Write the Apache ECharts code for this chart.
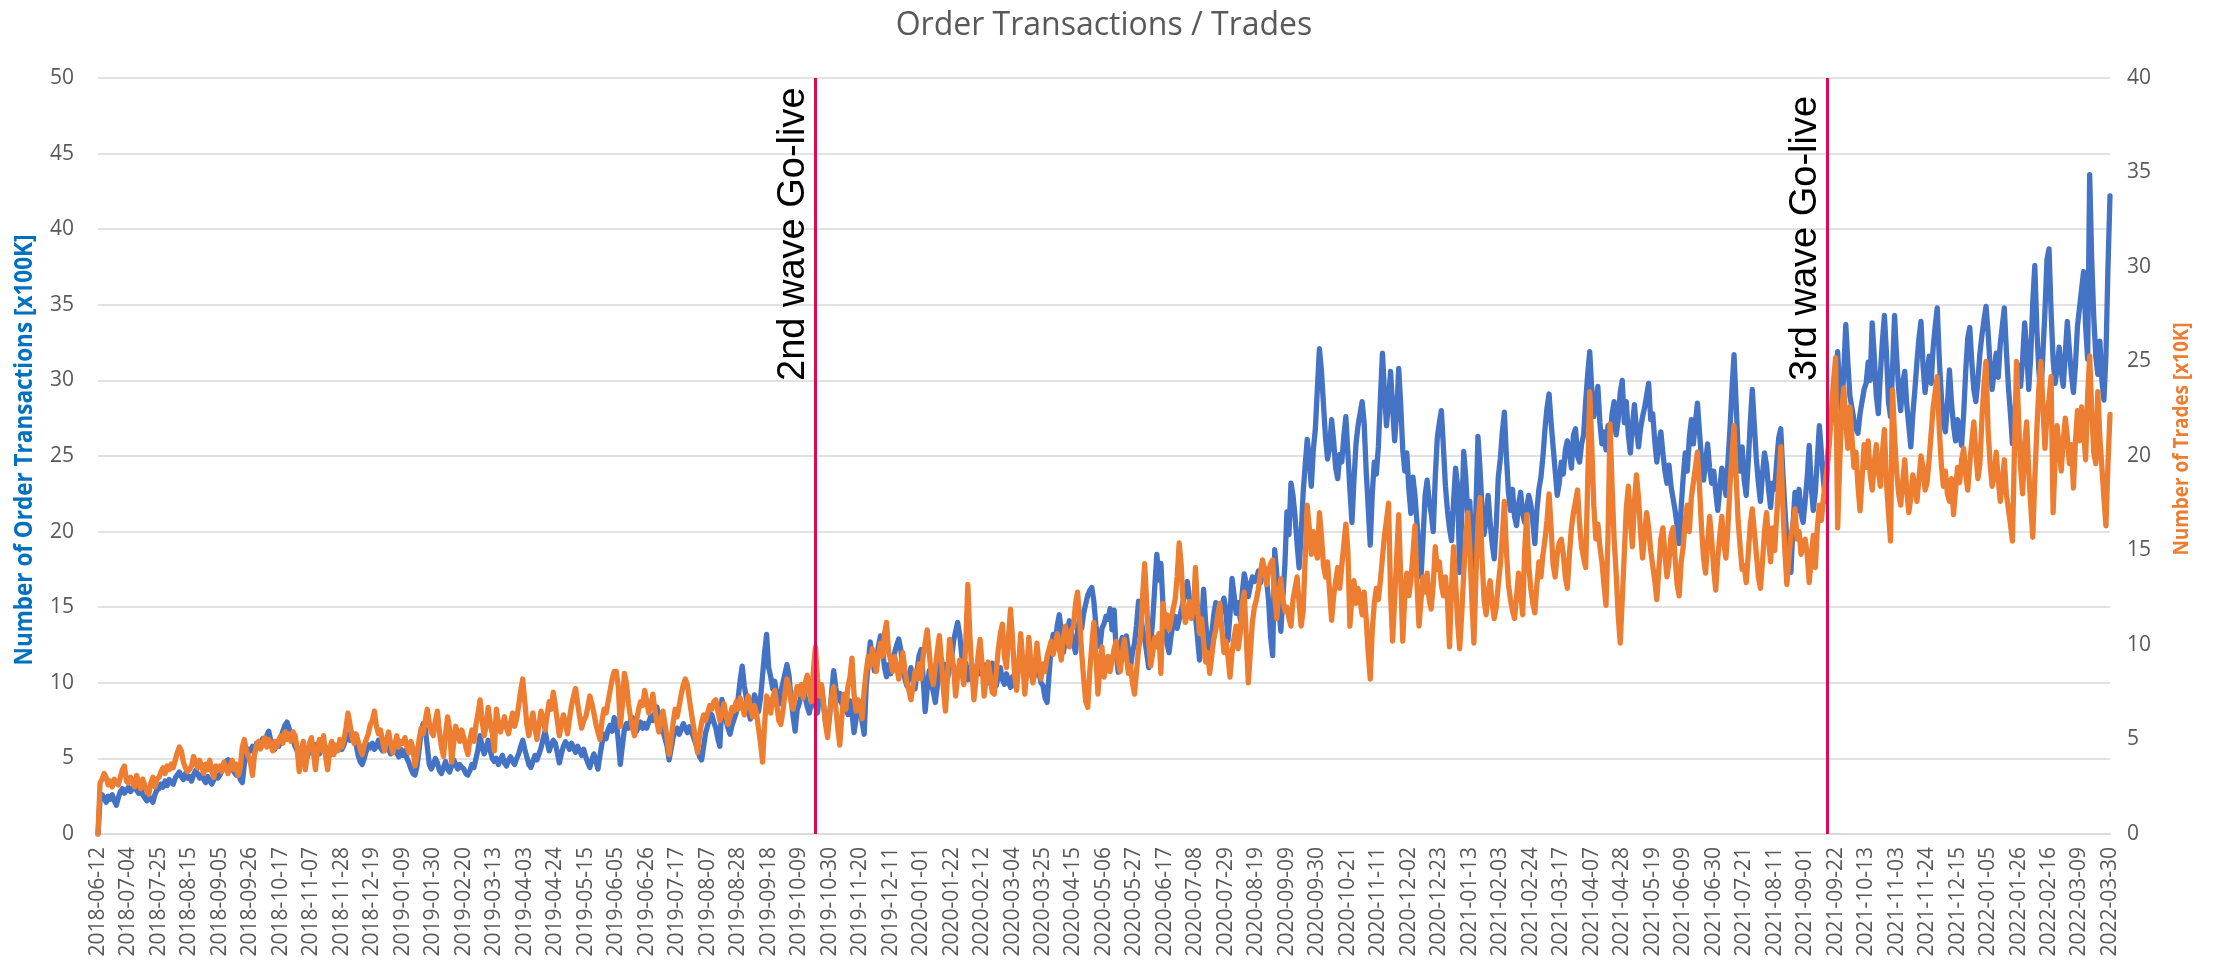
<!DOCTYPE html>
<html>
<head>
<meta charset="utf-8">
<script src="https://cdn.jsdelivr.net/npm/echarts@6/dist/echarts.min.js"></script>
<style>
  html, body { margin: 0; padding: 0; background: #ffffff; }
  #chart { width: 2224px; height: 963px; }
</style>
</head>
<body>
<div id="chart"></div>
<script>
// ---- chart data ----
const chartTitle = 'Order Transactions / Trades';
const leftAxisName = 'Number of Order Transactions [x100K]';
const rightAxisName = 'Number of Trades [x10K]';

// trading days run Mon-Fri between these dates; one weekday has no record
const firstDay = '2018-06-12';
const lastDay = '2022-03-30';
const missingDays = ['2018-06-13'];

// go-live markers
const goLiveDates = ['2019-10-21', '2021-09-16'];
const goLiveLabels = ['2nd wave Go-live', '3rd wave Go-live'];

// daily order transactions, in units of 100K (left axis)
const orderTransactions = [
  0, 2.3, 2.6, 2.4, 2.1, 2.5, 2.3, 2.6, 2.2, 1.9, 2.4, 2.8, 3.0, 2.7, 2.9,
  3.1, 2.8, 3.0, 3.2, 2.9, 2.7, 3.0, 2.6, 2.4, 2.2, 2.5, 2.3, 2.1, 2.6, 2.9,
  3.0, 3.3, 3.1, 3.5, 3.2, 3.6, 3.4, 3.3, 3.7, 3.9, 4.1, 3.8, 3.6, 4.0, 3.7,
  3.8, 3.5, 3.9, 4.2, 4.0, 3.7, 3.9, 3.6, 3.4, 3.8, 3.5, 3.3, 3.6, 3.9, 3.7,
  3.9, 4.2, 4.5, 4.8, 4.9, 4.5, 4.3, 4.1, 3.9, 4.2, 3.6, 3.4, 4.6, 5.3, 5.6,
  5.5, 5.8, 5.4, 6.0, 5.7, 5.9, 6.3, 6.0, 6.5, 6.8, 6.2, 5.9, 5.6, 6.1, 5.8,
  6.4, 6.8, 7.2, 7.4, 7.0, 6.6, 6.2, 5.8, 5.5, 5.2, 5.6, 5.9, 5.4, 5.1, 5.5,
  5.7, 5.4, 5.9, 5.6, 5.3, 5.8, 6.1, 5.7, 5.4, 5.2, 5.6, 5.9, 5.5, 5.8, 6.0,
  5.6, 5.9, 6.3, 6.6, 6.2, 6.7, 6.4, 5.9, 5.2, 4.8, 4.6, 5.0, 5.5, 5.9, 5.7,
  6.0, 5.6, 5.8, 6.2, 5.7, 5.5, 5.9, 6.1, 5.6, 5.3, 5.7, 5.9, 5.4, 5.1, 5.6,
  5.2, 5.5, 5.0, 4.7, 4.3, 4.0, 3.9, 4.5, 5.6, 6.8, 7.3, 7.0, 5.8, 4.6, 4.3,
  4.6, 5.0, 4.7, 4.2, 4.0, 4.4, 4.8, 4.3, 4.1, 4.5, 4.9, 4.6, 4.3, 4.6, 4.4,
  4.3, 4.0, 3.9, 4.2, 4.6, 4.4, 5.0, 5.6, 6.5, 5.8, 5.3, 5.7, 6.2, 5.5, 5.0,
  4.8, 5.0, 4.6, 4.9, 5.2, 4.7, 4.5, 4.9, 5.1, 4.8, 4.6, 5.0, 5.3, 5.8, 6.2,
  5.6, 5.1, 4.6, 4.4, 4.8, 5.2, 4.9, 5.3, 5.7, 6.3, 6.8, 6.1, 5.5, 5.9, 6.2,
  6.0, 5.4, 4.7, 5.3, 5.8, 6.1, 5.9, 5.6, 6.0, 5.7, 5.4, 5.8, 5.5, 5.2, 5.6,
  5.1, 4.7, 4.4, 4.9, 5.3, 4.8, 4.3, 5.2, 6.0, 6.6, 6.3, 6.9, 7.2, 6.8, 7.7,
  7.4, 6.2, 4.6, 5.8, 6.9, 7.3, 7.0, 7.5, 7.7, 7.2, 6.8, 7.1, 7.4, 7.0, 7.3,
  7.0, 7.4, 7.8, 7.5, 8.0, 8.4, 7.7, 7.1, 6.8, 6.3, 5.8, 4.9, 5.6, 6.4, 6.8,
  7.0, 6.6, 6.9, 7.3, 7.0, 6.7, 7.1, 6.8, 6.4, 6.0, 5.6, 5.1, 4.9, 5.8, 6.7,
  7.2, 7.6, 7.9, 7.4, 7.0, 6.3, 5.8, 8.9, 8.2, 7.5, 7.0, 6.6, 7.2, 7.6, 8.0,
  9.0, 10.2, 11.1, 9.8, 9.0, 8.2, 7.6, 8.4, 9.2, 8.8, 8.1, 9.0, 10.5, 12.0, 13.2,
  11.0, 10.4, 9.6, 10.1, 9.2, 8.6, 9.4, 10.0, 10.6, 11.2, 10.5, 9.0, 7.8, 6.8, 8.2,
  8.6, 9.2, 9.6, 9.0, 8.4, 8.0, 8.7, 9.3, 8.5, 8.0, 9.1, 9.8, 8.6, 7.4, 6.8,
  7.8, 9.4, 10.8, 9.7, 8.8, 9.3, 8.6, 9.2, 8.4, 7.9, 8.8, 8.0, 6.7, 7.6, 8.5,
  8.2, 7.4, 6.6, 9.8, 11.3, 12.7, 11.6, 10.8, 11.5, 12.4, 13.1, 12.2, 11.0, 10.4, 11.2,
  10.6, 11.4, 12.0, 12.5, 12.9, 12.2, 11.0, 10.3, 9.8, 10.4, 11.0, 10.2, 9.6, 10.8, 11.8,
  12.2, 10.4, 8.1, 9.6, 10.8, 10.0, 9.4, 8.7, 9.8, 10.9, 11.6, 10.7, 11.2, 10.3, 11.0,
  11.6, 12.8, 13.4, 14.0, 13.2, 11.8, 10.6, 11.3, 10.2, 11.0, 10.5, 9.8, 10.9, 11.4, 10.6,
  10.8, 11.2, 10.6, 10.0, 10.7, 11.3, 10.4, 9.8, 10.5, 11.0, 10.2, 9.9, 10.6, 10.1, 9.7,
  10.4, 9.8, 10.6, 11.3, 11.8, 11.0, 10.3, 10.9, 11.5, 10.8, 10.1, 10.6, 11.2, 10.7, 10.0,
  9.8, 9.0, 8.7, 10.6, 12.4, 13.2, 12.6, 13.8, 14.5, 13.4, 12.0, 12.8, 13.5, 14.1, 13.2,
  12.6, 12.0, 13.5, 14.2, 13.6, 14.6, 15.2, 15.8, 16.1, 16.3, 15.4, 13.8, 12.9, 12.4, 13.6,
  13.9, 14.4, 14.2, 14.9, 13.5, 14.8, 12.0, 10.7, 12.5, 13.0, 12.4, 13.1, 12.2, 11.0, 12.0,
  12.6, 13.8, 15.4, 14.6, 13.5, 12.9, 12.0, 11.0, 12.6, 14.2, 16.4, 18.5, 16.8, 17.9, 15.2,
  13.8, 12.6, 12.0, 13.1, 13.9, 14.4, 13.6, 14.2, 14.8, 15.4, 16.0, 16.7, 15.6, 14.6, 15.1,
  14.4, 13.0, 11.5, 13.6, 16.2, 14.0, 12.6, 11.4, 13.2, 14.5, 15.3, 15.0, 14.2, 15.1, 15.6,
  14.8, 12.8, 14.5, 16.9, 15.8, 14.6, 15.3, 14.2, 15.9, 17.2, 16.6, 15.7, 16.4, 17.0, 16.7,
  16.9, 17.4, 16.6, 17.2, 17.6, 16.8, 15.4, 13.0, 11.8, 18.8, 17.2, 15.0, 13.4, 15.6, 17.8,
  21.3, 19.8, 23.2, 22.4, 21.0, 19.2, 17.6, 19.8, 22.6, 24.4, 26.1, 24.8, 23.0, 25.4, 26.8,
  29.5, 32.1, 30.6, 28.4, 26.2, 24.8, 25.6, 27.4, 26.0, 24.2, 23.5, 25.1, 24.6, 26.3, 27.6,
  25.2, 22.8, 20.6, 23.4, 25.8, 27.0, 27.8, 28.6, 27.2, 24.0, 21.6, 19.1, 22.5, 24.6, 23.8,
  25.6, 28.8, 31.8, 29.2, 27.0, 28.6, 30.6, 28.2, 26.0, 27.8, 30.8, 28.4, 25.4, 24.0, 25.2,
  22.8, 21.2, 23.6, 22.4, 20.6, 18.8, 17.0, 19.6, 22.4, 23.4, 22.0, 21.2, 20.0, 23.6, 26.2,
  27.2, 28.0, 25.6, 23.0, 21.4, 20.2, 19.4, 22.0, 24.2, 23.0, 17.3, 21.0, 25.3, 23.6, 21.0,
  22.0, 19.0, 17.6, 21.4, 26.3, 24.2, 21.6, 19.8, 20.8, 22.4, 20.6, 19.2, 18.2, 20.4, 23.6,
  24.8, 26.6, 27.9, 25.0, 22.6, 21.4, 22.8, 21.0, 20.4, 21.8, 22.6, 21.2, 20.6, 21.6, 22.4,
  21.8, 20.6, 19.2, 21.4, 22.8, 23.6, 25.0, 26.8, 28.2, 29.1, 27.2, 25.6, 24.0, 22.4, 23.2,
  24.6, 23.8, 25.4, 26.0, 25.2, 24.2, 26.4, 26.8, 25.0, 24.6, 25.8, 26.4, 28.6, 30.4, 31.9,
  29.4, 27.6, 28.4, 29.6, 27.2, 25.8, 26.6, 25.4, 27.0, 26.2, 27.8, 28.6, 26.4, 27.4, 29.2,
  30.0, 27.2, 28.6, 26.4, 25.2, 27.0, 28.4, 26.8, 25.6, 26.8, 27.6, 28.2, 29.0, 29.8, 27.4,
  27.8, 26.0, 24.6, 25.8, 26.6, 25.2, 24.0, 23.2, 24.4, 23.0, 22.2, 21.4, 20.4, 19.2, 21.6,
  23.6, 25.2, 24.0, 26.2, 27.4, 25.8, 27.2, 28.5, 26.6, 24.8, 23.4, 24.6, 25.8, 24.2, 23.2,
  24.0, 22.6, 21.4, 22.8, 24.2, 23.6, 22.4, 24.6, 26.8, 29.4, 31.7, 28.6, 25.4, 24.0, 25.6,
  23.4, 22.4, 24.6, 27.2, 29.4, 27.0, 24.8, 23.2, 22.0, 23.8, 25.2, 24.4, 22.8, 21.6, 23.2,
  22.8, 24.6, 26.2, 26.8, 24.0, 21.6, 19.4, 18.0, 17.3, 20.4, 22.6, 21.4, 22.8, 21.2, 20.6,
  22.0, 23.6, 25.7, 23.0, 21.4, 22.6, 24.8, 27.0, 25.2, 23.4, 22.0, 24.6, 26.8, 27.4, 29.6,
  30.4, 31.9, 29.2, 28.0, 30.6, 33.7, 31.2, 29.0, 28.2, 27.4, 26.8, 26.5, 27.8, 28.6, 29.4,
  29.8, 31.2, 30.0, 33.8, 31.6, 29.0, 27.8, 30.4, 32.6, 34.3, 31.8, 28.6, 27.6, 30.8, 34.3,
  31.6, 29.4, 28.0, 29.8, 30.6, 28.4, 27.0, 25.6, 27.8, 29.4, 31.2, 32.8, 33.9, 31.0, 29.2,
  30.4, 31.6, 29.8, 32.2, 33.6, 34.8, 31.4, 29.0, 27.2, 26.6, 28.4, 30.7, 28.6, 27.0, 26.0,
  27.4, 26.4, 25.7, 27.8, 30.6, 32.8, 33.5, 31.2, 29.4, 28.6, 30.0, 31.8, 33.0, 34.0, 34.9,
  33.2, 31.0, 29.4, 30.6, 31.8, 30.2, 32.4, 33.6, 34.8, 32.0, 29.6, 27.8, 25.8, 27.6, 29.2,
  31.0, 29.6, 31.4, 33.8, 32.0, 29.4, 31.6, 35.2, 37.6, 33.4, 30.6, 29.0, 31.8, 34.6, 38.0,
  38.7, 34.6, 31.4, 29.8, 30.8, 32.2, 30.6, 29.6, 31.8, 33.9, 32.0, 30.4, 29.2, 31.0, 33.6,
  34.8, 36.0, 37.2, 33.6, 31.4, 43.6, 38.0, 34.2, 31.6, 30.4, 32.6, 30.0, 28.7, 31.6, 37.5,
  42.2
];

// daily trades, in units of 10K (right axis)
const trades = [
  0, 2.7, 2.9, 3.2, 3.0, 2.6, 2.8, 2.5, 2.9, 2.7, 2.6, 3.0, 3.4, 3.6, 2.8,
  2.7, 3.0, 2.8, 2.5, 3.1, 2.7, 2.4, 2.9, 2.6, 2.3, 2.1, 2.7, 3.0, 2.5, 2.9,
  3.0, 3.3, 3.5, 3.2, 3.6, 3.4, 3.7, 3.5, 3.9, 4.3, 4.6, 4.4, 3.8, 3.5, 3.3,
  3.4, 3.6, 4.1, 3.8, 3.5, 3.9, 3.6, 3.2, 3.7, 3.4, 3.9, 3.3, 3.0, 3.6, 3.4,
  3.6, 3.3, 3.8, 3.5, 3.2, 3.6, 3.9, 3.4, 3.7, 3.1, 3.5, 4.6, 5.0, 4.4, 4.1,
  3.8, 3.1, 4.2, 4.7, 4.9, 4.5, 4.8, 5.1, 4.6, 5.0, 4.7, 4.4, 4.9, 4.6, 5.0,
  5.2, 4.8, 5.4, 5.0, 5.3, 4.9, 5.4, 5.2, 4.5, 3.3, 4.4, 4.9, 3.4, 4.2, 4.8,
  5.1, 4.3, 3.4, 4.6, 5.0, 4.4, 5.2, 4.1, 3.4, 4.5, 4.9, 4.2, 4.7, 4.4, 5.0,
  4.6, 5.0, 5.6, 6.4, 5.8, 5.1, 4.8, 5.3, 4.9, 4.5, 4.2, 4.7, 5.0, 5.3, 5.8,
  6.0, 6.5, 5.7, 5.3, 5.5, 4.9, 4.4, 5.0, 5.4, 4.8, 4.3, 4.7, 5.2, 4.6, 4.9,
  4.8, 5.1, 4.6, 4.3, 4.9, 4.5, 3.6, 4.2, 5.0, 5.6, 5.3, 6.0, 6.6, 5.9, 5.4,
  5.2, 6.0, 6.5, 5.4, 4.6, 4.1, 5.3, 6.2, 5.6, 3.8, 4.8, 5.7, 5.3, 4.9, 5.5,
  5.1, 4.6, 4.2, 5.0, 5.5, 4.9, 5.8, 6.4, 7.1, 6.0, 5.2, 5.7, 6.7, 5.9, 5.3,
  4.4, 6.6, 5.9, 5.4, 5.8, 6.2, 5.6, 5.3, 5.9, 6.4, 5.7, 6.1, 6.8, 7.6, 8.2,
  7.0, 5.8, 5.2, 5.9, 6.4, 5.6, 5.0, 5.8, 6.5, 6.1, 5.5, 6.3, 7.0, 6.6, 7.5,
  6.8, 6.0, 5.2, 5.8, 6.3, 5.9, 5.3, 6.1, 6.8, 7.3, 7.7, 6.9, 6.2, 5.6, 6.0,
  6.2, 6.7, 7.3, 6.9, 6.4, 5.8, 5.4, 5.0, 6.0, 6.6, 6.4, 7.0, 7.6, 8.2, 8.6,
  8.6, 7.8, 5.7, 6.8, 8.5, 8.0, 6.9, 6.2, 5.6, 5.2, 6.0, 6.6, 7.0, 6.8, 7.6,
  7.0, 6.4, 6.8, 7.4, 6.6, 5.9, 5.4, 6.0, 6.5, 5.8, 5.1, 4.2, 5.0, 5.9, 6.6,
  6.2, 6.8, 7.4, 7.9, 8.2, 7.9, 7.1, 6.4, 5.7, 5.0, 4.3, 5.2, 5.9, 6.3, 6.0,
  6.4, 6.8, 6.6, 7.0, 7.1, 6.5, 6.0, 6.4, 6.9, 6.3, 5.8, 6.2, 6.7, 6.5, 7.0,
  6.6, 7.2, 6.8, 6.3, 6.9, 7.3, 6.7, 6.2, 6.8, 6.4, 5.6, 4.8, 3.8, 5.8, 7.3,
  7.0, 6.4, 7.2, 7.6, 6.8, 6.0, 5.8, 6.5, 7.4, 8.2, 7.8, 7.0, 6.6, 7.3, 7.8,
  7.4, 7.9, 7.2, 8.0, 8.4, 7.6, 7.0, 8.6, 9.9, 8.2, 7.3, 7.9, 6.8, 5.8, 5.1,
  6.4, 7.3, 7.8, 6.7, 5.6, 4.7, 6.2, 7.4, 6.6, 7.8, 8.3, 9.3, 7.4, 6.5, 7.1,
  6.8, 6.1, 7.6, 8.6, 9.4, 8.9, 9.8, 9.2, 8.6, 9.5, 10.1, 9.4, 10.6, 11.2, 9.6,
  9.2, 8.6, 9.4, 8.9, 8.2, 8.8, 9.6, 8.7, 8.0, 7.6, 7.1, 7.8, 8.6, 8.2, 9.0,
  8.2, 9.4, 10.1, 10.8, 9.6, 8.4, 7.9, 8.8, 9.7, 10.5, 9.2, 7.6, 6.5, 8.4, 10.3,
  9.6, 8.8, 7.3, 8.4, 9.2, 8.6, 7.9, 10.2, 13.2, 10.5, 8.6, 7.1, 8.2, 9.4, 10.3,
  9.0, 7.3, 8.2, 9.1, 8.4, 7.5, 7.4, 8.6, 9.8, 10.6, 11.1, 9.4, 8.8, 10.4, 11.9,
  10.3, 8.4, 7.6, 8.9, 10.6, 9.2, 7.4, 8.6, 10.4, 9.1, 8.0, 8.7, 10.1, 9.0, 8.2,
  9.0, 8.6, 9.4, 9.8, 10.2, 9.5, 10.0, 10.6, 9.8, 9.2, 10.4, 11.0, 10.3, 9.9, 10.8,
  11.0, 12.2, 12.8, 11.4, 9.6, 8.2, 7.0, 6.7, 8.6, 10.0, 11.2, 9.5, 7.4, 8.8, 9.9,
  8.3, 8.8, 9.4, 8.6, 9.2, 9.8, 10.2, 9.1, 8.6, 9.6, 10.3, 9.4, 8.5, 8.9, 8.0,
  7.4, 8.6, 9.8, 10.4, 12.6, 14.3, 12.2, 10.1, 8.9, 9.6, 10.4, 9.9, 10.6, 8.5, 12.2,
  11.0, 11.6, 10.8, 11.3, 11.9, 12.4, 13.6, 15.4, 14.2, 12.0, 11.2, 11.7, 12.3, 11.4, 11.8,
  14.1, 12.0, 10.6, 11.4, 10.2, 9.1, 9.6, 8.5, 9.4, 10.3, 10.8, 11.6, 12.2, 10.8, 9.6,
  10.2, 9.4, 8.3, 9.6, 10.4, 11.0, 9.8, 10.6, 12.2, 12.8, 10.4, 8.0, 9.6, 11.2, 12.0,
  12.4, 13.0, 13.8, 14.5, 14.0, 13.2, 13.9, 14.3, 14.5, 12.6, 11.4, 12.8, 13.5, 12.4, 11.8,
  12.0, 11.4, 11.0, 12.4, 13.0, 13.6, 12.2, 11.0, 11.8, 14.6, 17.4, 16.2, 14.8, 16.0, 15.0,
  14.6, 17.0, 15.8, 14.2, 13.6, 14.4, 12.8, 11.3, 12.6, 13.4, 14.1, 13.0, 14.2, 15.3, 16.4,
  15.0, 11.0, 12.6, 13.4, 12.2, 13.0, 12.4, 11.6, 12.8, 11.4, 9.6, 8.2, 10.8, 12.2, 13.0,
  12.4, 13.4, 14.6, 15.8, 16.6, 17.5, 12.8, 10.2, 12.4, 14.6, 16.9, 13.6, 10.2, 12.6, 13.8,
  12.6, 13.4, 14.8, 16.3, 13.2, 11.0, 12.4, 13.6, 12.8, 13.8, 12.4, 11.9, 13.2, 15.2, 14.0,
  14.4, 13.2, 12.6, 13.6, 12.4, 9.9, 13.0, 15.2, 13.4, 11.2, 9.8, 11.6, 13.8, 15.6, 17.0,
  15.2, 12.4, 10.1, 13.6, 16.4, 17.8, 14.6, 12.4, 11.6, 12.8, 13.4, 12.2, 11.4, 12.0, 13.2,
  14.2, 15.8, 17.6, 15.0, 13.2, 12.4, 11.8, 11.4, 12.6, 13.8, 12.8, 11.6, 15.0, 16.9, 14.2,
  13.0, 12.2, 11.7, 13.2, 14.4, 13.6, 14.8, 15.6, 16.6, 18.0, 16.2, 14.2, 13.6, 14.8, 15.4,
  15.6, 14.8, 13.6, 13.0, 14.8, 16.2, 17.0, 17.6, 18.2, 16.4, 15.2, 14.6, 14.1, 18.6, 23.4,
  20.6, 17.4, 15.6, 16.4, 15.2, 14.4, 13.2, 12.1, 15.8, 21.7, 18.4, 15.6, 13.8, 11.6, 10.1,
  12.4, 14.8, 17.2, 18.4, 16.6, 15.2, 17.6, 19.0, 17.8, 16.0, 14.6, 15.8, 17.0, 16.2, 15.0,
  14.2, 13.4, 12.4, 14.0, 15.6, 16.2, 14.8, 13.6, 14.4, 15.8, 16.2, 14.6, 13.2, 12.6, 14.4,
  15.2, 16.6, 17.4, 16.0, 17.8, 18.6, 19.4, 20.2, 18.4, 16.2, 14.6, 13.8, 15.4, 16.8, 15.6,
  14.0, 12.9, 14.6, 15.8, 16.8, 15.4, 14.6, 16.2, 18.4, 20.0, 21.6, 19.0, 16.6, 15.2, 14.0,
  14.2, 13.3, 14.8, 16.4, 17.2, 16.0, 14.8, 13.6, 13.0, 14.4, 16.0, 17.0, 15.6, 14.4, 16.2,
  15.0, 16.8, 18.6, 20.5, 17.4, 15.0, 13.2, 14.6, 15.8, 16.4, 17.2, 15.6, 16.0, 14.8, 15.4,
  15.6, 14.8, 13.3, 14.6, 15.8, 14.1, 16.2, 17.4, 16.6, 17.8, 18.6, 19.6, 20.8, 22.4, 24.0,
  25.2, 16.2, 19.6, 22.4, 23.6, 21.8, 20.4, 22.6, 21.0, 19.4, 20.2, 18.4, 17.1, 18.8, 20.6,
  19.4, 20.8, 19.0, 18.2, 19.6, 20.6, 19.2, 18.4, 20.2, 21.4, 18.6, 17.0, 15.5, 23.5, 21.0,
  19.2, 18.0, 17.4, 18.6, 19.8, 18.2, 17.0, 17.8, 19.0, 18.4, 17.6, 18.8, 20.0, 19.4, 18.2,
  18.6, 19.8, 21.2, 22.6, 23.4, 24.2, 21.4, 19.6, 18.4, 19.2, 18.0, 17.6, 18.8, 16.9, 18.2,
  19.4, 18.6, 19.8, 20.4, 19.0, 18.2, 19.6, 20.8, 21.8, 20.2, 18.8, 19.6, 22.0, 23.8, 25.0,
  21.4, 19.6, 18.4, 19.0, 20.2, 18.8, 17.6, 18.6, 19.8, 18.0, 17.2, 16.4, 15.5, 20.4, 25.0,
  22.0, 19.4, 18.0, 20.6, 21.8, 19.2, 17.4, 15.7, 18.8, 21.4, 23.6, 25.0, 22.6, 20.4, 22.2,
  23.0, 24.2, 17.0, 19.8, 21.6, 20.4, 19.2, 20.8, 22.0, 21.0, 19.6, 20.6, 18.3, 20.8, 22.4,
  20.8, 22.6, 21.4, 19.8, 23.2, 25.3, 22.4, 20.2, 19.6, 23.4, 21.0, 19.4, 17.8, 16.3, 19.6,
  22.2
];

// ---- build the weekday category list ----
function tradingDays(from, to, skip) {
  const out = [];
  const d = new Date(from + 'T00:00:00Z');
  const end = new Date(to + 'T00:00:00Z');
  while (d <= end) {
    const wd = d.getUTCDay();
    const s = d.toISOString().slice(0, 10);
    if (wd !== 0 && wd !== 6 && !skip.includes(s)) out.push(s);
    d.setUTCDate(d.getUTCDate() + 1);
  }
  return out;
}
const dates = tradingDays(firstDay, lastDay, missingDays);

// ---- styling ----
const tickFont = 'Open Sans';
const gray = '#595959';
const gridGray = '#D9D9D9';
const blue = '#4472C4';
const orange = '#ED7D31';
const markerRed = '#DC0A55';

const chart = echarts.init(document.getElementById('chart'), null, { renderer: 'canvas' });

chart.setOption({
  animation: false,
  backgroundColor: '#ffffff',
  grid: { left: 98, right: 114, top: 78, bottom: 129, containLabel: false },
  xAxis: {
    type: 'category',
    data: dates,
    boundaryGap: false,
    axisLine: { show: true, lineStyle: { color: gridGray, width: 1.7 } },
    axisTick: { show: false },
    axisLabel: {
      interval: 14,
      rotate: 90,
      margin: 13,
      color: gray,
      fontFamily: tickFont,
      fontSize: 21
    },
    splitLine: { show: false }
  },
  yAxis: [
    {
      type: 'value',
      min: 0, max: 50, interval: 5,
      axisLine: { show: false },
      axisTick: { show: false },
      axisLabel: { margin: 24, color: gray, fontFamily: tickFont, fontSize: 21 },
      splitLine: { show: true, lineStyle: { color: gridGray, width: 1.7 } }
    },
    {
      type: 'value',
      position: 'right',
      min: 0, max: 40, interval: 5,
      axisLine: { show: false },
      axisTick: { show: false },
      axisLabel: { margin: 17, color: gray, fontFamily: tickFont, fontSize: 21 },
      splitLine: { show: false }
    }
  ],
  series: [
    {
      name: 'Order Transactions',
      type: 'line',
      yAxisIndex: 0,
      data: orderTransactions,
      symbol: 'none',
      lineStyle: { color: blue, width: 5.3, cap: 'round', join: 'round' },
      itemStyle: { color: blue },
      z: 2
    },
    {
      name: 'Trades',
      type: 'line',
      yAxisIndex: 1,
      data: trades,
      symbol: 'none',
      lineStyle: { color: orange, width: 5.3, cap: 'round', join: 'round' },
      itemStyle: { color: orange },
      z: 3,
      markLine: {
        silent: true,
        symbol: ['none', 'none'],
        label: { show: false },
        lineStyle: { color: markerRed, width: 3, type: 'solid' },
        data: goLiveDates.map(d => ({ xAxis: d }))
      }
    }
  ]
});

// title, axis titles and go-live captions, placed from the chart's own coordinate system
const plotBottom = chart.convertToPixel({ yAxisIndex: 0 }, 0);

const graphics = [
  {
    type: 'text', x: 1104, y: 26,
    style: {
      text: chartTitle, fill: gray, fontFamily: tickFont, fontSize: 32,
      align: 'center', verticalAlign: 'middle'
    }
  },
  {
    // condensed bold axis title: larger glyphs, compressed along the text run
    type: 'text', x: 25, y: 450, rotation: Math.PI / 2, scaleX: 0.9,
    style: {
      text: leftAxisName, fill: '#0070C0', fontFamily: tickFont, fontWeight: 'bold',
      fontSize: 25, align: 'center', verticalAlign: 'middle'
    }
  },
  {
    type: 'text', x: 2182, y: 439, rotation: Math.PI / 2, scaleX: 0.86,
    style: {
      text: rightAxisName, fill: orange, fontFamily: tickFont, fontWeight: 'bold',
      fontSize: 22, align: 'center', verticalAlign: 'middle'
    }
  }
];
goLiveDates.forEach((d, i) => {
  const x = chart.convertToPixel({ xAxisIndex: 0 }, d);
  graphics.push({
    type: 'text', x: x - 3, y: plotBottom - 453, rotation: Math.PI / 2,
    style: {
      text: goLiveLabels[i], fill: '#000000', fontFamily: 'Liberation Sans',
      fontSize: 38, align: 'left', verticalAlign: 'bottom'
    }
  });
});
chart.setOption({ graphic: graphics });
</script>
</body>
</html>
